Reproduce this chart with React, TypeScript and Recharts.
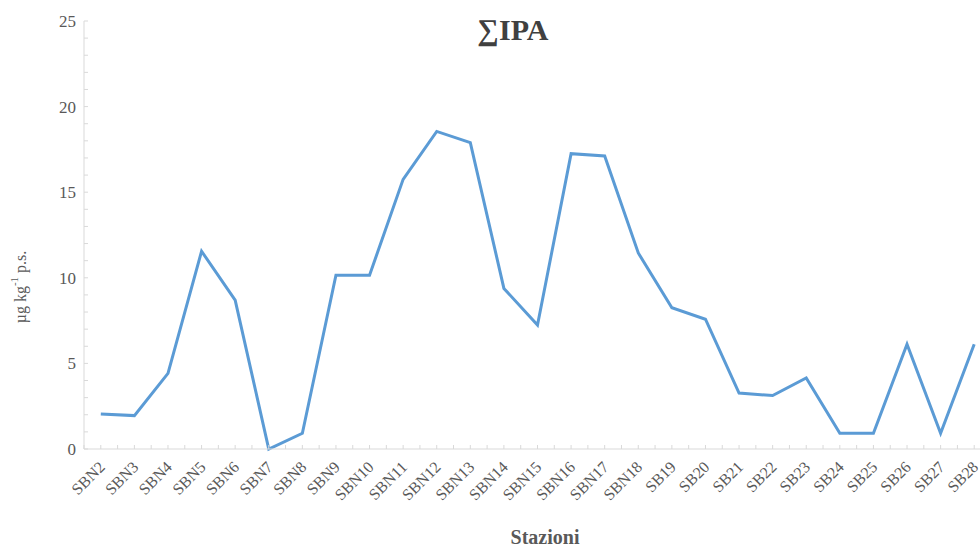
import React from 'react';
import { LineChart, Line, XAxis, YAxis, Label } from 'recharts';

const categories = ['SBN2','SBN3','SBN4','SBN5','SBN6','SBN7','SBN8','SBN9','SBN10','SBN11','SBN12','SBN13','SBN14','SBN15','SBN16','SBN17','SBN18','SB19','SB20','SB21','SB22','SB23','SB24','SB25','SB26','SB27','SB28'];
const ipaValues = [2.05,1.95,4.42,11.55,8.7,0,0.92,10.15,10.15,15.75,18.55,17.9,9.38,7.24,17.25,17.12,11.45,8.25,7.58,3.27,3.12,4.15,0.92,0.92,6.12,0.92,6.12];
const yTicks = Array.from({ length: 26 }, (_, i) => i);
const yLabelStep = 5;
const title = '∑IPA';
const xTitle = 'Stazioni';

const data = categories.map((name, i) => ({ pos: i + 0.5, name, value: ipaValues[i] }));
const xTicks = Array.from({ length: categories.length * 2 + 1 }, (_, i) => i / 2);

const FONT = '"Liberation Serif", "Times New Roman", serif';
const AXIS = '#d9d9d9';
const TXT = '#595959';

const XTick = (props: any) => {
  const { x, y, payload } = props;
  const idx = payload.value - 0.5;
  const label = Number.isInteger(idx) ? categories[idx] : null;
  return (
    <g>
      <line x1={x} x2={x} y1={y - 4} y2={y} stroke={AXIS} strokeWidth={1} />
      {label && (
        <text x={x + 5} y={y + 19} transform={`rotate(-45, ${x + 5}, ${y + 19})`} textAnchor="end" fontFamily={FONT} fontSize={16} fill={TXT}>
          {label}
        </text>
      )}
    </g>
  );
};

const YTick = (props: any) => {
  const { x, y, payload } = props;
  const v = payload.value;
  return (
    <g>
      <line x1={x} x2={x + 4} y1={y} y2={y} stroke={AXIS} strokeWidth={1} />
      {v % yLabelStep === 0 && (
        <text x={x - 8} y={y} dy="0.35em" textAnchor="end" fontFamily={FONT} fontSize={17} fill={TXT}>
          {v}
        </text>
      )}
    </g>
  );
};

const YLabel = (props: any) => {
  const cx = 20;
  const cy = 287;
  return (
    <text x={cx} y={cy} transform={`rotate(-90, ${cx}, ${cy})`} textAnchor="middle" dominantBaseline="central" fontFamily={FONT} fontSize={16} fill={TXT}>
      <tspan>µg kg</tspan>
      <tspan baselineShift="super" fontSize={11}>-1</tspan>
      <tspan> p.s.</tspan>
    </text>
  );
};

const XLabel = (props: any) => {
  return (
    <text x={545} y={544} textAnchor="middle" fontFamily={FONT} fontSize={20} fontWeight="bold" fill={TXT}>
      {xTitle}
    </text>
  );
};

export default function App() {
  return (
    <div style={{ position: 'absolute', left: 0, top: 0, width: 980, height: 549, overflow: 'hidden', background: '#fff' }}>
      <div style={{ position: 'absolute', left: 413, top: 10, width: 200, textAlign: 'center', fontFamily: FONT, fontWeight: 'bold', fontSize: 30, color: '#404040', lineHeight: '40px' }}>
        {title}
      </div>
      <LineChart width={1000} height={549} data={data} margin={{ top: 21, right: 9, bottom: 30, left: 0 }}>
        <XAxis
          dataKey="pos"
          type="number"
          domain={[0, categories.length]}
          ticks={xTicks}
          interval={0}
          tick={<XTick />}
          tickLine={false}
          tickSize={0}
          tickMargin={0}
          axisLine={{ stroke: AXIS }}
          height={70}
          allowDecimals
        >
          <Label content={<XLabel />} />
        </XAxis>
        <YAxis
          type="number"
          domain={[0, 25]}
          ticks={yTicks}
          interval={0}
          tick={<YTick />}
          tickLine={false}
          tickSize={0}
          tickMargin={0}
          axisLine={{ stroke: AXIS }}
          width={84}
        >
          <Label content={<YLabel />} />
        </YAxis>
        <Line type="linear" dataKey="value" stroke="#5B9BD5" strokeWidth={3} dot={false} isAnimationActive={false} />
      </LineChart>
    </div>
  );
}
